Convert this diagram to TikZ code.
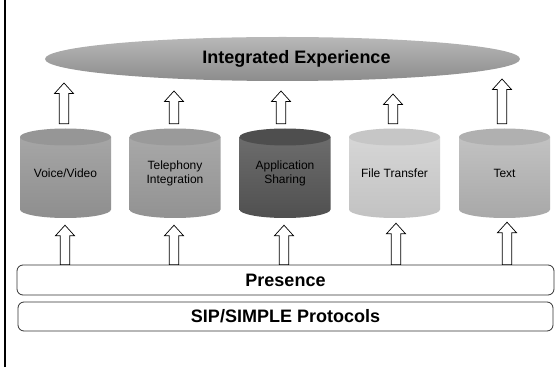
\documentclass[tikz,border=0pt]{standalone}
\usepackage{fontspec}
\setmainfont{Liberation Sans}
\usetikzlibrary{calc}

\definecolor{ellTop}{HTML}{B8B8B8}
\definecolor{ellBot}{HTML}{8C8C8C}
\definecolor{vvBody}{HTML}{A6A6A6}\definecolor{vvLow}{HTML}{8E8E8E}\definecolor{vvTop}{HTML}{969696}
\definecolor{tiBody}{HTML}{A8A8A8}\definecolor{tiLow}{HTML}{929292}\definecolor{tiTop}{HTML}{9A9A9A}
\definecolor{asBody}{HTML}{6C6C6C}\definecolor{asLow}{HTML}{505050}\definecolor{asTop}{HTML}{4E4E4E}
\definecolor{ftBody}{HTML}{D6D6D6}\definecolor{ftLow}{HTML}{C2C2C2}\definecolor{ftTop}{HTML}{C6C6C6}
\definecolor{txBody}{HTML}{C2C2C2}\definecolor{txLow}{HTML}{A8A8A8}\definecolor{txTop}{HTML}{B0B0B0}

\tikzset{
  drumlabel/.style={inner sep=0pt, minimum width=91pt, minimum height=89.5pt,
    align=center, font=\fontsize{12}{14.5}\selectfont},
  blockarrow/.style={draw=black, line width=0.7pt, fill=white, line join=miter},
  layerbox/.style={draw=black!80, line width=0.8pt, rounded corners=6pt,
    font=\fontsize{18}{20}\selectfont\bfseries, inner sep=0pt},
}

% cylinder: #1 node name, #2 centre x, #3 upper body colour, #4 lower body colour, #5 top colour, #6 text
\newcommand\drum[6]{%
  \shade[top color=#3, bottom color=#4]
    (#2-45.5,230) -- (#2-45.5,157.5)
    arc[start angle=180, end angle=360, x radius=45.5, y radius=8.5]
    -- (#2+45.5,230) -- cycle;
  \fill[#5] (#2,230) ellipse[x radius=45.5, y radius=8.5];
  \node[drumlabel] (#1) at (#2,193.75) {#6};
}

% hollow upward block arrow from #1 (tail) to the height of #2 (tip)
\newcommand\blockup[2]{%
  \draw[blockarrow] let \p1=(#1), \p2=(#2) in
    (\x1-4.75pt,\y1) -- (\x1+4.75pt,\y1) -- (\x1+4.75pt,\y2-10.5pt)
    -- (\x1+9.5pt,\y2-10.5pt) -- (\x1,\y2) -- (\x1-9.5pt,\y2-10.5pt)
    -- (\x1-4.75pt,\y2-10.5pt) -- cycle;
}

\begin{document}
\begin{tikzpicture}[x=1pt, y=1pt]
  \useasboundingbox (0,0) rectangle (559,367);
  \fill[white] (0,0) rectangle (559,367);
  \draw[line width=2pt] (4.5,0) -- (4.5,367);

  % top band
  \shade[top color=ellTop, bottom color=ellBot]
    (282.5,308) ellipse[x radius=237.5, y radius=22];
  \node[font=\fontsize{18}{20}\selectfont\bfseries, inner sep=0pt] (exp) at (296.5,308) {Integrated Experience};

  % service cylinders
  \drum{c1}{65.5}{vvBody}{vvLow}{vvTop}{Voice/Video}
  \drum{c2}{175}{tiBody}{tiLow}{tiTop}{Telephony\\Integration}
  \drum{c3}{285}{asBody}{asLow}{asTop}{Application\\Sharing}
  \drum{c4}{394.5}{ftBody}{ftLow}{ftTop}{File Transfer}
  \drum{c5}{504.5}{txBody}{txLow}{txTop}{Text}

  % layers
  \node[layerbox, minimum width=537pt, minimum height=30pt] (pres) at (285.5,87) {Presence};
  \node[layerbox, minimum width=535pt, minimum height=29pt] (sip) at (285.5,50.5) {SIP/SIMPLE Protocols};

  % arrow ends
  \coordinate (u1a) at ([xshift=-1.5pt, yshift=4.5pt]c1.north);
  \coordinate (u2a) at ([xshift=-1pt, yshift=4.5pt]c2.north);
  \coordinate (u3a) at ([xshift=-4pt, yshift=4.5pt]c3.north);
  \coordinate (u4a) at ([xshift=-1.5pt, yshift=4.5pt]c4.north);
  \coordinate (u5a) at ([xshift=-2.5pt, yshift=4.5pt]c5.north);
  \coordinate (u1b) at (64,284);
  \coordinate (u2b) at (174,276);
  \coordinate (u3b) at (281,276);
  \coordinate (u4b) at (393,273);
  \coordinate (u5b) at (502,288);

  \coordinate (d1a) at (pres.north -| 65,0);
  \coordinate (d2a) at (pres.north -| 174,0);
  \coordinate (d3a) at (pres.north -| 284,0);
  \coordinate (d4a) at (pres.north -| 396,0);
  \coordinate (d5a) at (pres.north -| 507,0);
  \coordinate (d1b) at ([yshift=-7pt]c1.south);
  \coordinate (d2b) at ([yshift=-7pt]c2.south);
  \coordinate (d3b) at ([yshift=-7pt]c3.south);
  \coordinate (d4b) at ([yshift=-5pt]c4.south);
  \coordinate (d5b) at ([yshift=-4pt]c5.south);

  \foreach \i in {1,...,5}{
    \blockup{u\i a}{u\i b}
    \blockup{d\i a}{d\i b}
  }
\end{tikzpicture}
\end{document}
